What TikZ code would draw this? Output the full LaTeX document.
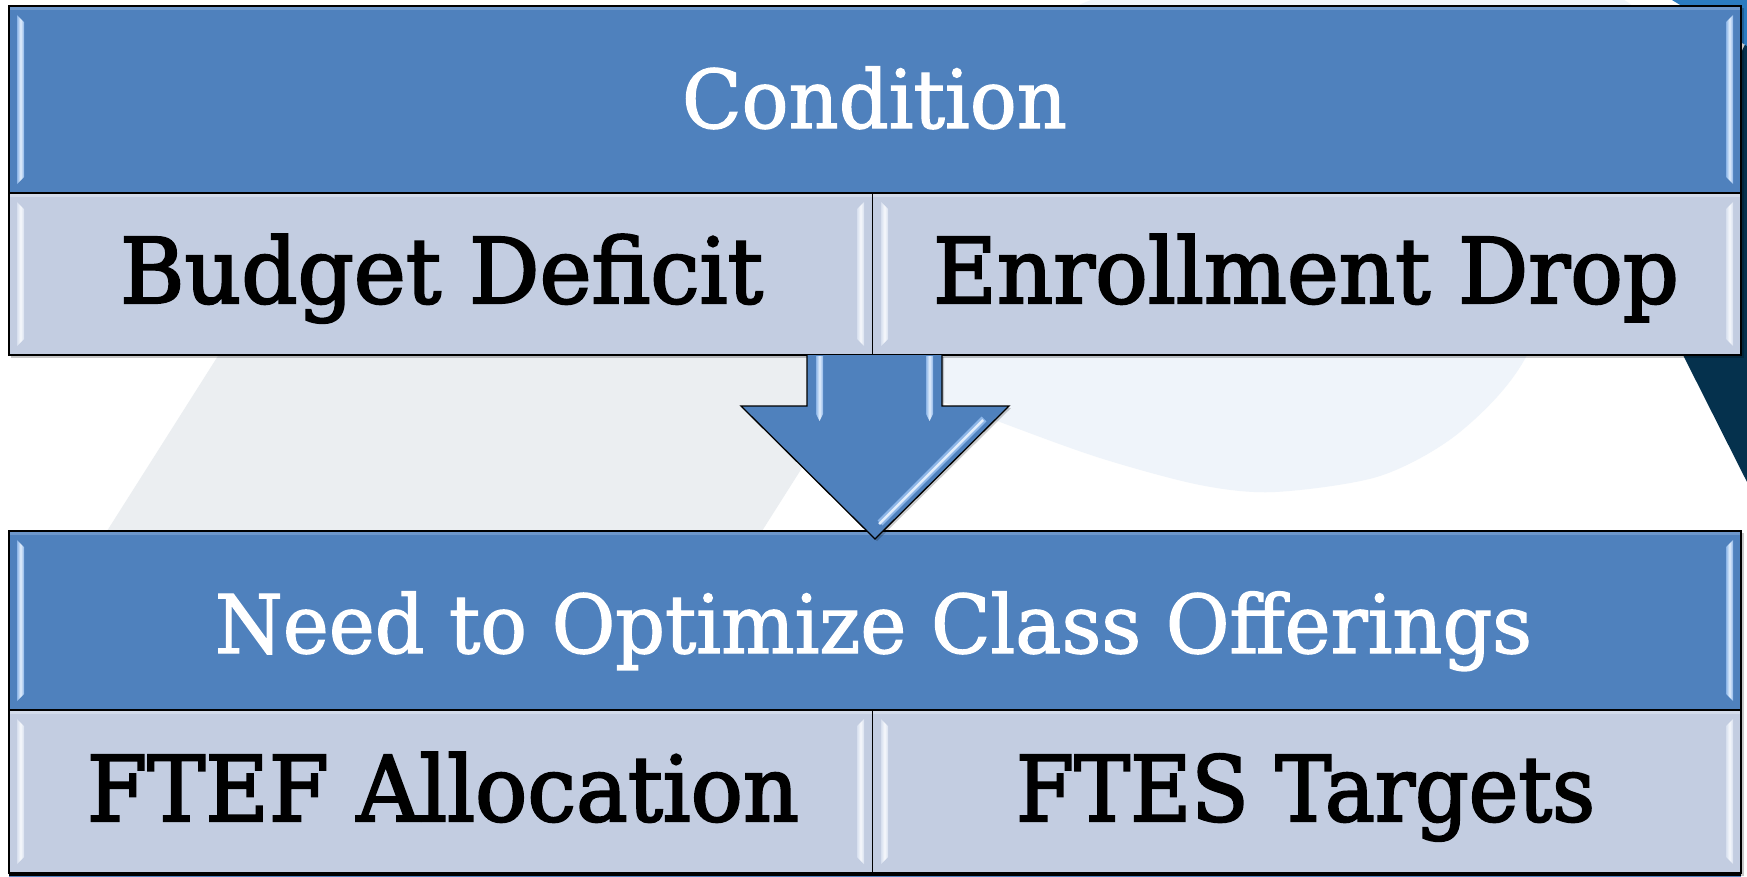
\documentclass[tikz,border=0pt]{standalone}
\usepackage{graphicx}
\usepackage{fontspec}
\setmainfont{DejaVu Serif}
\newfontfamily\hdrfont{DejaVu Serif}[FakeBold=1.6]
\newfontfamily\rowfont{DejaVu Serif}[FakeBold=2.4]
\usetikzlibrary{calc}

\definecolor{hdrblue}{HTML}{4F81BD}
\definecolor{hdrtop}{HTML}{6D97CB}
\definecolor{rowfill}{HTML}{C3CDE1}
\definecolor{rowtop}{HTML}{D3DBEA}
\definecolor{bggray}{HTML}{EBEEF1}
\definecolor{bglight}{HTML}{EFF4FA}
\definecolor{navy}{HTML}{05314D}
\definecolor{cornerblue}{HTML}{2B7BC0}
\definecolor{hdrglint}{HTML}{8DB6E8}
\definecolor{hdrglintmid}{HTML}{E2EEFC}
\definecolor{rowglint}{HTML}{D8E0EF}
\definecolor{rowglintmid}{HTML}{F6F8FC}

% text set at a given size and stretched to a given width
\newcommand\fitw[3]{\resizebox{#1pt}{\height}{\fontsize{#2}{#2}\selectfont #3}}

% two bevel glints just inside the left and right edges of a panel
\newcommand\glintpair[6]{%
  \shade[left color=#5, right color=#5, middle color=#6]
    (#1+8,#2+9) -- (#1+15,#2+16) -- (#1+15,#4-16) -- (#1+8,#4-9) -- cycle;
  \shade[left color=#5, right color=#5, middle color=#6]
    (#3-8,#2+9) -- (#3-15,#2+16) -- (#3-15,#4-16) -- (#3-8,#4-9) -- cycle;}

\tikzset{
  boxline/.style={draw=black, line width=1.3pt},
  hdrtext/.style={anchor=base, inner sep=0pt, text=white, font=\hdrfont},
  rowtext/.style={anchor=base, inner sep=0pt, text=black, font=\rowfont},
  panelshadow/.style={fill=black, opacity=0.22},
}

\begin{document}
\begin{tikzpicture}[x=1pt, y=-1pt]
\useasboundingbox (0,0) rectangle (1747,876);
\fill[white] (0,0) rectangle (1747,876);

% ---- backdrop shapes ----
\fill[bggray] (436,12) -- (1091,12) -- (762,531) -- (107,531) -- cycle;
\fill[bglight] plot[smooth cycle] coordinates {
  (860,330) (905,385) (1000,422) (1100,458) (1200,485) (1275,492)
  (1380,476) (1460,432) (1527,355) (1580,200) (1620,-2) (1105,-4) (980,150)};
\fill[navy] (1640,270) -- (1747,40) -- (1747,482) -- (1683,355) -- cycle;
\fill[cornerblue] (1672,0) -- (1747,0) -- (1747,46) -- cycle;

% ---- upper panel: Condition ----
\fill[panelshadow] (11,8) rectangle (1744,358);
\fill[hdrblue] (9,6) rectangle (1741,193);
\fill[hdrtop] (9,6) rectangle (1741,10);
\fill[rowfill] (9,193) rectangle (1741,355);
\fill[rowtop] (9,193) rectangle (1741,197);
\glintpair{9}{6}{1741}{193}{hdrglint}{hdrglintmid}
\glintpair{9}{193}{872}{355}{rowglint}{rowglintmid}
\glintpair{873}{193}{1741}{355}{rowglint}{rowglintmid}
\draw[boxline] (9,6) rectangle (1741,355);
\draw[boxline] (9,193) -- (1741,193);
\draw[boxline] (872.5,193) -- (872.5,355);

\node[hdrtext] (cond) at (874.5,128) {\fitw{385}{81}{Condition}};
\node[rowtext] (budget) at (441.5,303) {\fitw{643}{90.5}{Budget Deficit}};
\node[rowtext] (enroll) at (1306,303) {\fitw{746}{90.5}{Enrollment Drop}};

% ---- lower panel: Need to Optimize ----
\fill[panelshadow] (11,533) rectangle (1744,876);
\fill[hdrblue] (9,531) rectangle (1741,710);
\fill[hdrtop] (9,531) rectangle (1741,535);
\fill[rowfill] (9,710) rectangle (1741,873);
\fill[rowtop] (9,710) rectangle (1741,714);
\glintpair{9}{531}{1741}{710}{hdrglint}{hdrglintmid}
\glintpair{9}{710}{872}{873}{rowglint}{rowglintmid}
\glintpair{873}{710}{1741}{873}{rowglint}{rowglintmid}
\fill[hdrblue] (9,875) rectangle (1741,890);
\draw[boxline] (9,531) rectangle (1741,873);
\draw[boxline] (9,710) -- (1741,710);
\draw[boxline] (872.5,710) -- (872.5,873);
\draw[boxline] (9,875) -- (1741,875);

\node[hdrtext] (need) at (873.5,653) {\fitw{1317}{81}{Need to Optimize Class Offerings}};
\node[rowtext] (ftef) at (443,821) {\fitw{712}{90.5}{FTEF Allocation}};
\node[rowtext] (ftes) at (1305.5,821) {\fitw{579}{90.5}{FTES Targets}};

% ---- block arrow between the panels ----
\fill[black, opacity=0.2] (809,357) -- (809,408) -- (743,408) -- (877,541)
  -- (1011,408) -- (944,408) -- (944,357) -- cycle;
\fill[hdrblue] (807,355) -- (807,406) -- (741,406) -- (875,539)
  -- (1009,406) -- (942,406) -- (942,355) -- cycle;
\shade[left color=hdrglint, right color=hdrglint, middle color=hdrglintmid]
  (816,356) -- (823,356) -- (823,414) -- (819.5,421) -- (816,414) -- cycle;
\shade[left color=hdrglint, right color=hdrglint, middle color=hdrglintmid]
  (926,356) -- (933,356) -- (933,414) -- (929.5,421) -- (926,414) -- cycle;
\draw[hdrglint, line width=7pt] (984,419) -- (880,523);
\draw[hdrglintmid, line width=2.5pt] (983,420) -- (879,524);
\draw[boxline, line join=miter] (807,355) -- (807,406) -- (741,406) -- (875,539)
  -- (1009,406) -- (942,406) -- (942,355);
\end{tikzpicture}
\end{document}
